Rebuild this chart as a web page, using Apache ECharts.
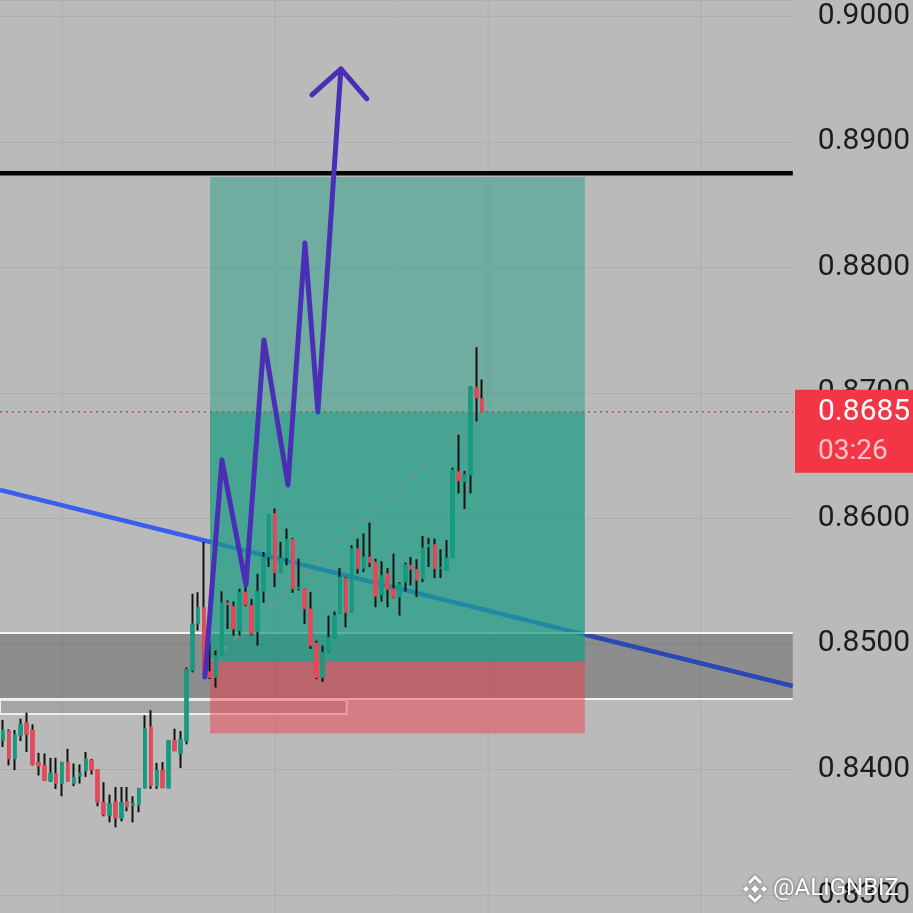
<!DOCTYPE html>
<html><head><meta charset="utf-8">
<script src="https://cdn.jsdelivr.net/npm/echarts@6/dist/echarts.min.js"></script>
<style>html,body{margin:0;padding:0;background:#bababa;overflow:hidden}#c{width:913px;height:913px}</style>
</head><body><div id="c"></div>
<script>
// ---- candle data ----
const opens = [0.84232,0.84307,0.84085,0.84267,0.84373,0.84315,0.84059,0.84032,0.83907,0.83968,
0.83888,0.84059,0.83888,0.83947,0.83987,0.84075,0.84000,0.83739,0.83632,0.83744,
0.83613,0.83744,0.83712,0.83717,0.83851,0.84341,0.83867,0.83995,0.83851,0.84232,
0.84128,0.84227,0.84787,0.85160,0.85293,0.84779,0.84733,0.84907,0.85328,0.85301,
0.85107,0.85413,0.85307,0.85099,0.85419,0.85693,0.86040,0.85568,0.85685,0.85835,
0.85440,0.85440,0.85280,0.85008,0.84733,0.84939,0.85045,0.85240,0.85525,0.85253,
0.85760,0.85600,0.85693,0.85653,0.85392,0.85560,0.85440,0.85373,0.85493,0.85627,
0.85595,0.85520,0.85773,0.85792,0.85600,0.85587,0.85685,0.86373,0.86293,0.86347,
0.87045,0.86955];
const closes = [0.84315,0.84085,0.84280,0.84360,0.84280,0.84040,0.84027,0.83915,0.83973,0.83888,
0.84059,0.83907,0.83939,0.83973,0.84085,0.83995,0.83739,0.83640,0.83728,0.83613,
0.83739,0.83701,0.83728,0.83851,0.84325,0.83872,0.83995,0.83853,0.84232,0.84147,
0.84240,0.84800,0.85160,0.85293,0.84773,0.84733,0.84907,0.85328,0.85312,0.85120,
0.85413,0.85312,0.85080,0.85419,0.85693,0.86032,0.85568,0.85685,0.85835,0.85440,
0.85453,0.85280,0.84987,0.84733,0.84933,0.85053,0.85227,0.85533,0.85248,0.85760,
0.85600,0.85693,0.85648,0.85381,0.85547,0.85435,0.85373,0.85480,0.85632,0.85595,
0.85507,0.85765,0.85792,0.85600,0.85611,0.85685,0.86387,0.86299,0.86352,0.87045,
0.86960,0.86850];
const lows = [0.84179,0.84032,0.83995,0.84227,0.84139,0.84032,0.83952,0.83910,0.83900,0.83845,
0.83787,0.83905,0.83867,0.83888,0.83941,0.83960,0.83707,0.83627,0.83579,0.83539,
0.83587,0.83667,0.83579,0.83659,0.83851,0.83845,0.83845,0.83853,0.83851,0.84147,
0.84011,0.84200,0.84773,0.85107,0.84760,0.84720,0.84653,0.84907,0.85120,0.85067,
0.85067,0.85301,0.85067,0.84987,0.85328,0.85613,0.85453,0.85568,0.85627,0.85408,
0.85427,0.85160,0.84960,0.84720,0.84698,0.84933,0.85040,0.85240,0.85133,0.85253,
0.85560,0.85573,0.85613,0.85293,0.85339,0.85293,0.85365,0.85227,0.85419,0.85467,
0.85373,0.85493,0.85613,0.85525,0.85525,0.85587,0.85685,0.86200,0.86075,0.86200,
0.86773,0.86848];
const highs = [0.84395,0.84320,0.84315,0.84405,0.84453,0.84360,0.84133,0.84128,0.84093,0.84093,
0.84060,0.84165,0.84048,0.84040,0.84139,0.84085,0.84000,0.83899,0.83800,0.83861,
0.83861,0.83861,0.83787,0.83851,0.84432,0.84472,0.84053,0.84059,0.84232,0.84325,
0.84307,0.84813,0.85400,0.85413,0.85813,0.85013,0.84947,0.85419,0.85347,0.85339,
0.85440,0.85560,0.85360,0.85560,0.85733,0.86032,0.86080,0.85813,0.85920,0.85845,
0.85680,0.85445,0.85413,0.85027,0.84987,0.85227,0.85259,0.85605,0.85533,0.85787,
0.85840,0.85880,0.85968,0.85680,0.85659,0.85605,0.85720,0.85493,0.85648,0.85693,
0.85675,0.85861,0.85845,0.85840,0.85755,0.85827,0.86405,0.86667,0.86379,0.87053,
0.87365,0.87107];

// ---- axis / annotation data ----
const totalSlots = 134;
const yMin = 0.828566, yMax = 0.90131;
const timeTickIdx = [10, 46, 82, 118];
const lastPrice = 0.8685;
const timerText = '03:26';
const targetPrice = 0.88721, entryPrice = 0.84857, stopPrice = 0.84287;
const zoneTime = [35, 98.35];
const resistancePrice = 0.8875;
const trendTime = [-0.5, 133.5];
const trendPrice = [0.86227, 0.84665];
const bandPrice = [0.84562, 0.85088];
const band2Price = [0.84442, 0.84554];
const band2Time = [-0.5, 58.1];
const pathTime = [34.14, 37.01, 41.07, 44.11, 48.17, 51.04, 53.23, 57.12];
const pathPrice = [0.84737, 0.86466, 0.85470, 0.87422, 0.86267, 0.88195, 0.86849, 0.89582];
const arrowTime = [52.22, 57.12, 61.51];
const arrowPrice = [0.89375, 0.89582, 0.89343];
const watermark = '@ALIGNBIZ';

const cats = Array.from({length: totalSlots}, (_, i) => String(i));
const wickData = opens.map((o, i) => [o, closes[i], lows[i], highs[i]]);
const bodyData = opens.map((o, i) => [o, closes[i], Math.min(o, closes[i]), Math.max(o, closes[i])]);
const xL = -0.5, xR = totalSlots - 0.5;

const UP = '#169a80', DOWN = '#e04a5a';

function rectShape(api, x0, x1, p0, p1) {
  const a = api.coord([x0, p1]), b = api.coord([x1, p0]);
  return {x: a[0], y: a[1], width: b[0] - a[0], height: b[1] - a[1]};
}

const bandsData = [[xL, xR, bandPrice[0], bandPrice[1]], [band2Time[0], band2Time[1], band2Price[0], band2Price[1]]];
const zonesData = [
  [zoneTime[0], zoneTime[1], stopPrice, entryPrice],
  [zoneTime[0], zoneTime[1], entryPrice, lastPrice],
  [zoneTime[0], zoneTime[1], lastPrice, targetPrice]
];
const zoneFills = ['rgba(242,54,69,0.45)', 'rgba(22,156,129,0.70)', 'rgba(22,156,129,0.45)'];

const chart = echarts.init(document.getElementById('c'));
const option = {
  animation: false,
  backgroundColor: '#bababa',
  grid: {left: 0, right: 120, top: 0, bottom: 0, containLabel: false},
  xAxis: [
    {type: 'category', data: cats, boundaryGap: true, show: true,
     axisLine: {show: false}, axisTick: {show: false}, axisLabel: {show: false}, splitLine: {show: false}},
    {type: 'value', min: xL, max: xR, show: false}
  ],
  yAxis: [{
    type: 'value', position: 'right', min: yMin, max: yMax, splitNumber: 7, scale: true,
    axisLine: {show: false}, axisTick: {show: false},
    splitLine: {show: true, lineStyle: {color: '#aeaeae', width: 1}},
    axisLabel: {
      show: true, margin: 25, color: '#1c1c1c', fontSize: 30, fontFamily: 'Roboto',
      showMinLabel: false, showMaxLabel: false,
      formatter: v => (Math.abs(v * 100 - Math.round(v * 100)) < 1e-6 ? v.toFixed(4) : '')
    }
  }],
  series: [
    { // vertical time grid
      type: 'custom', xAxisIndex: 1, yAxisIndex: 0, z: 1, silent: true,
      data: timeTickIdx.map(t => [t, yMin]),
      renderItem: (params, api) => {
        const t = api.value(0);
        const a = api.coord([t, yMax]), b = api.coord([t, yMin]);
        return {type: 'line', shape: {x1: a[0], y1: a[1], x2: b[0], y2: b[1]}, style: {stroke: '#aeaeae', lineWidth: 1}};
      }
    },
    { // blue trendline
      type: 'line', xAxisIndex: 1, yAxisIndex: 0, z: 2, silent: true, showSymbol: false,
      data: trendTime.map((t, i) => [t, trendPrice[i]]),
      lineStyle: {color: '#3a5ff0', width: 4.5}
    },
    { // grey bands
      type: 'custom', xAxisIndex: 1, yAxisIndex: 0, z: 3, silent: true, clip: true,
      data: bandsData,
      renderItem: (params, api) => {
        const s = rectShape(api, api.value(0), api.value(1), api.value(2), api.value(3));
        if (params.dataIndex === 0) {
          return {type: 'group', children: [
            {type: 'rect', shape: s, style: {fill: 'rgba(0,0,0,0.24)'}},
            {type: 'line', shape: {x1: s.x, y1: s.y, x2: s.x + s.width, y2: s.y}, style: {stroke: '#f2f2f2', lineWidth: 2}},
            {type: 'line', shape: {x1: s.x, y1: s.y + s.height, x2: s.x + s.width, y2: s.y + s.height}, style: {stroke: '#f2f2f2', lineWidth: 2}}
          ]};
        }
        return {type: 'rect', shape: s, style: {fill: 'rgba(0,0,0,0.11)', stroke: '#eeeeee', lineWidth: 2}};
      }
    },
    { // position zones
      type: 'custom', xAxisIndex: 1, yAxisIndex: 0, z: 4, silent: true, clip: true,
      data: zonesData,
      renderItem: (params, api) => ({
        type: 'rect',
        shape: rectShape(api, api.value(0), api.value(1), api.value(2), api.value(3)),
        style: {fill: zoneFills[params.dataIndex]}
      })
    },
    { // dashed entry -> current line
      type: 'line', xAxisIndex: 1, yAxisIndex: 0, z: 5, silent: true, showSymbol: false,
      data: [[zoneTime[0], entryPrice], [opens.length - 1, lastPrice]],
      lineStyle: {color: 'rgba(125,145,140,0.9)', width: 2, type: [7, 9]}
    },
    { // wicks
      type: 'candlestick', xAxisIndex: 0, yAxisIndex: 0, z: 6, silent: true,
      data: wickData, barWidth: 0.5,
      itemStyle: {color: '#111', color0: '#111', borderColor: '#111', borderColor0: '#111', borderWidth: 2}
    },
    { // bodies
      type: 'candlestick', xAxisIndex: 0, yAxisIndex: 0, z: 7, silent: true,
      data: bodyData, barWidth: 4,
      itemStyle: {color: UP, color0: DOWN, borderColor: UP, borderColor0: DOWN, borderWidth: 0.75}
    },
    { // current price dotted line
      type: 'line', xAxisIndex: 1, yAxisIndex: 0, z: 8, silent: true, showSymbol: false,
      data: [[xL, lastPrice], [xR, lastPrice]],
      lineStyle: {color: '#e8394a', width: 1.5, type: [2, 4]}
    },
    { // black resistance line
      type: 'line', xAxisIndex: 1, yAxisIndex: 0, z: 8, silent: true, showSymbol: false,
      data: [[xL, resistancePrice], [xR, resistancePrice]],
      lineStyle: {color: '#050505', width: 4.5}
    },
    { // purple projected path
      type: 'line', xAxisIndex: 1, yAxisIndex: 0, z: 9, silent: true, showSymbol: false,
      data: pathTime.map((t, i) => [t, pathPrice[i]]),
      lineStyle: {color: '#4a2fb6', width: 5, cap: 'round', join: 'round'}
    },
    { // arrow head
      type: 'line', xAxisIndex: 1, yAxisIndex: 0, z: 9, silent: true, showSymbol: false,
      data: arrowTime.map((t, i) => [t, arrowPrice[i]]),
      lineStyle: {color: '#4a2fb6', width: 5, cap: 'round', join: 'round'}
    }
  ]
};
chart.setOption(option);

const py = chart.convertToPixel({yAxisIndex: 0}, lastPrice);
const cx = 755, cy = 889;
const sh = {shadowColor: 'rgba(0,0,0,0.55)', shadowBlur: 3};
function diamond(x, y, r) { return [[x, y - r], [x + r, y], [x, y + r], [x - r, y]]; }
chart.setOption({
  graphic: [
    {type: 'rect', z: 100, shape: {x: 795, y: py - 22, width: 120, height: 83}, style: {fill: '#f23645'}},
    {type: 'text', z: 101, x: 818, y: py + 1, style: {text: lastPrice.toFixed(4), fill: '#ffffff', font: '30px Roboto', textVerticalAlign: 'middle'}},
    {type: 'text', z: 101, x: 818, y: py + 40, style: {text: timerText, fill: '#ffc2c8', font: '28px Roboto', textVerticalAlign: 'middle'}},
    {type: 'polygon', z: 102, shape: {points: diamond(cx, cy, 4)}, style: Object.assign({fill: '#fff'}, sh)},
    {type: 'polygon', z: 102, shape: {points: diamond(cx - 9, cy, 3)}, style: Object.assign({fill: '#fff'}, sh)},
    {type: 'polygon', z: 102, shape: {points: diamond(cx + 9, cy, 3)}, style: Object.assign({fill: '#fff'}, sh)},
    {type: 'polyline', z: 102, shape: {points: [[cx - 6, cy - 6], [cx, cy - 12], [cx + 6, cy - 6]]}, style: Object.assign({stroke: '#fff', lineWidth: 3, fill: null}, sh)},
    {type: 'polyline', z: 102, shape: {points: [[cx - 6, cy + 6], [cx, cy + 12], [cx + 6, cy + 6]]}, style: Object.assign({stroke: '#fff', lineWidth: 3, fill: null}, sh)},
    {type: 'text', z: 102, x: 773, y: cy, style: {text: watermark, fill: '#ffffff', font: '24px Roboto', textVerticalAlign: 'middle',
      textShadowColor: 'rgba(0,0,0,0.6)', textShadowBlur: 3}}
  ]
});
</script></body></html>
